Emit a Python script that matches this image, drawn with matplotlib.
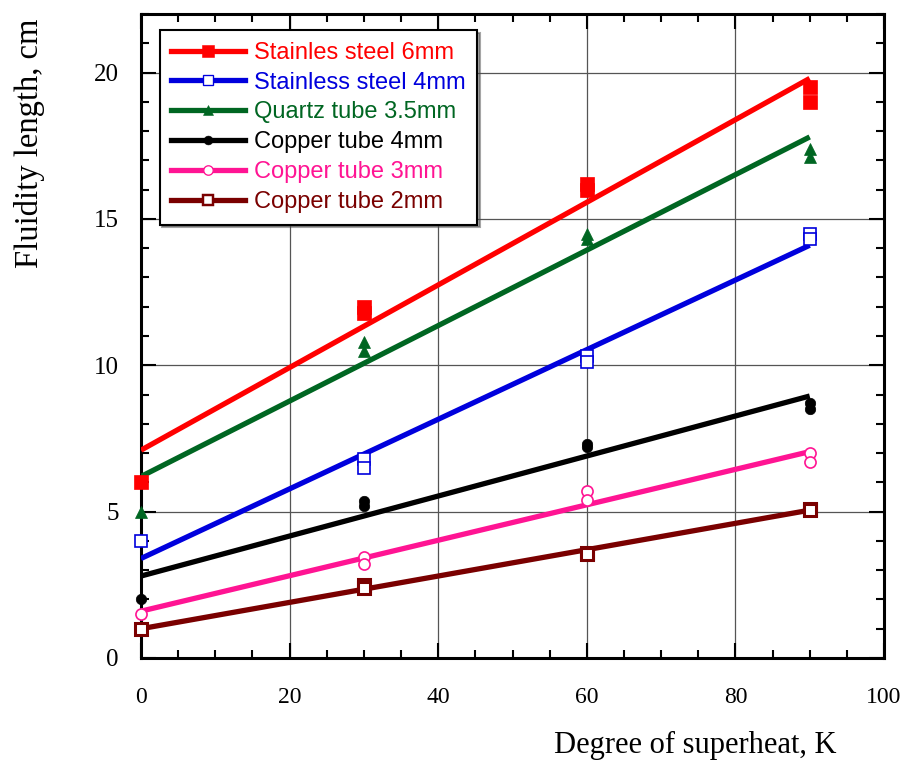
import numpy as np
import matplotlib
matplotlib.use("Agg")
import matplotlib.pyplot as plt
from matplotlib.ticker import MultipleLocator

# Measured fluidity length (cm) vs degree of superheat (K)
series_names = ["Stainles steel 6mm", "Stainless steel 4mm", "Quartz tube 3.5mm",
                "Copper tube 4mm", "Copper tube 3mm", "Copper tube 2mm"]
series_colors = ["#ff0000", "#0000dd", "#006622", "#000000", "#ff1493", "#7a0000"]

superheat = [0, 30, 30, 60, 60, 90, 90]

ss6_len = [6.0, 12.0, 11.8, 16.2, 16.0, 19.5, 19.0]
ss4_len = [4.0, 6.8, 6.5, 10.3, 10.1, 14.5, 14.3]
quartz35_len = [5.0, 10.8, 10.5, 14.5, 14.3, 17.4, 17.1]
cu4_len = [2.0, 5.35, 5.2, 7.3, 7.2, 8.7, 8.5]
cu3_len = [1.5, 3.45, 3.2, 5.7, 5.4, 7.0, 6.7]
cu2_len = [1.0, 2.5, 2.4, 3.6, 3.55, 5.1, 5.05]

# Linear fit lines: value at 0 K and at 90 K
fit_x = [0, 90]
ss6_fit = [7.1, 19.8]
ss4_fit = [3.4, 14.1]
quartz35_fit = [6.2, 17.8]
cu4_fit = [2.8, 8.95]
cu3_fit = [1.6, 7.05]
cu2_fit = [1.0, 5.05]

x_ticks = [0, 20, 40, 60, 80, 100]
y_ticks = [0, 5, 10, 15, 20]

measured = [ss6_len, ss4_len, quartz35_len, cu4_len, cu3_len, cu2_len]
fits = [ss6_fit, ss4_fit, quartz35_fit, cu4_fit, cu3_fit, cu2_fit]
marker_styles = [
    dict(marker="s", ms=9.5, mfc="fill", mew=0.5),
    dict(marker="s", ms=8, mfc="white", mew=1.2),
    dict(marker="^", ms=8.5, mfc="fill", mew=0.5),
    dict(marker="o", ms=7.5, mfc="fill", mew=0.5),
    dict(marker="o", ms=8, mfc="white", mew=1.2),
    dict(marker="s", ms=8, mfc="white", mew=2.2),
]

fig = plt.figure(figsize=(9.10, 7.71), dpi=100)
ax = fig.add_axes([141 / 910, 1 - 658 / 771, (884 - 141) / 910, (658 - 14) / 771])

ax.set_xlim(0, 100)
ax.set_ylim(0, 22)

# grid at major positions
for gx in [20, 40, 60, 80]:
    ax.axvline(gx, color="#555555", lw=0.9, zorder=1)
for gy in [5, 10, 15, 20]:
    ax.axhline(gy, color="#555555", lw=0.9, zorder=1)

handles = []
for name, col, ys, fy, st in zip(series_names, series_colors, measured, fits, marker_styles):
    mfc = col if st["mfc"] == "fill" else st["mfc"]
    ax.plot(superheat, ys, linestyle="none", marker=st["marker"], ms=st["ms"],
            mfc=mfc, mec=col, mew=st["mew"], zorder=4, clip_on=False)
    ax.plot(fit_x, fy, color=col, lw=3.8, zorder=3, solid_capstyle="butt")
    h, = ax.plot([], [], color=col, lw=3.8, marker=st["marker"],
                 ms=st["ms"] * 0.85, mfc=mfc, mec=col, mew=st["mew"] * 0.8)
    handles.append(h)

ax.set_xticks(x_ticks)
ax.set_yticks(y_ticks)
ax.xaxis.set_minor_locator(MultipleLocator(5))
ax.yaxis.set_minor_locator(MultipleLocator(1))
ax.tick_params(which="both", direction="in", top=True, right=True, width=1.5, color="black")
ax.tick_params(which="major", length=11)
ax.tick_params(which="minor", length=5.5)
ax.tick_params(axis="x", which="major", pad=21, labelsize=17)
ax.tick_params(axis="y", which="major", pad=16, labelsize=18)
for lab in ax.get_xticklabels() + ax.get_yticklabels():
    lab.set_fontfamily("Liberation Serif")
for sp in ax.spines.values():
    sp.set_linewidth(2.2)

fig.text(695 / 910, 1 - 745 / 771, "Degree of superheat, K", ha="center", va="center",
         fontsize=22, family="Liberation Serif")
fig.text(30 / 910, 1 - 143 / 771, "Fluidity length, cm", ha="center", va="center",
         rotation=90, fontsize=23.5, family="Liberation Serif")

leg = ax.legend(handles, series_names, loc="upper left", bbox_to_anchor=(0.025, 0.975),
                frameon=True, fancybox=False, shadow=True, handlelength=3.1,
                handletextpad=0.4, labelspacing=0.33, borderpad=0.5, borderaxespad=0,
                prop={"family": "Liberation Sans", "size": 17})
leg.get_frame().set_edgecolor("black")
leg.get_frame().set_linewidth(1.5)
for txt, col in zip(leg.get_texts(), series_colors):
    txt.set_color(col)

fig.savefig("out.png", dpi=100)
